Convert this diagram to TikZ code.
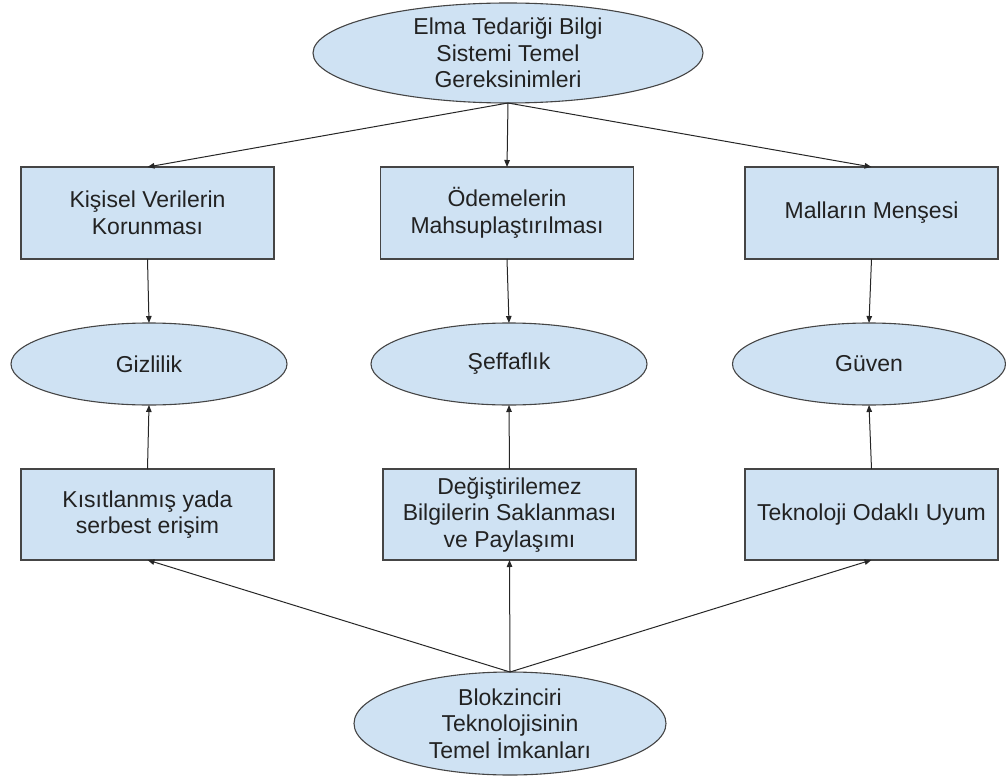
\documentclass[tikz,border=0pt]{standalone}
\usepackage{fontspec}
\setmainfont{Liberation Sans}
\usetikzlibrary{shapes.geometric,arrows.meta}

\definecolor{cellfill}{HTML}{CFE2F3}
\definecolor{cellline}{HTML}{454545}
\definecolor{inkcol}{HTML}{222222}

\tikzset{
  txt/.style={font=\fontsize{23}{26.5}\selectfont, text=inkcol, align=center},
  stepbox/.style={txt, rectangle, draw=cellline, fill=cellfill, line width=1.1pt,
    minimum width=253pt, minimum height=92pt, inner sep=0pt, outer sep=0pt},
  oval/.style={ellipse, draw=cellline, fill=cellfill, line width=1.1pt,
    inner sep=0pt, outer sep=0pt},
  ovaltext/.style={label={[txt]center:#1}},
  link/.style={draw=black!85, line width=1pt, -{Triangle[length=7pt,width=5.5pt]}}
}

\begin{document}
\begin{tikzpicture}[x=1pt,y=-1pt]
\useasboundingbox (0,0) rectangle (1006,778);

% top requirement
\node[oval, minimum width=390pt, minimum height=100pt,
  ovaltext={Elma Tedariği Bilgi\\Sistemi Temel\\Gereksinimleri}] (req) at (508,53) {};

% requirement boxes
\node[stepbox] (priv) at (147.5,213) {Kişisel Verilerin\\Korunması};
\node[stepbox] (pay)  at (507,213) {Ödemelerin\\Mahsuplaştırılması};
\node[stepbox] (orig) at (871.5,213) {Malların Menşesi};

% properties
\node[oval, minimum width=276pt, minimum height=82pt, ovaltext={Gizlilik}] (giz) at (149,364) {};
\node[oval, minimum width=276pt, minimum height=82pt, ovaltext={Şeffaflık}] (sef) at (509,364) {};
\node[oval, minimum width=273pt, minimum height=82pt, ovaltext={Güven}] (guv) at (869,364) {};

% capability boxes
\node[stepbox, minimum height=91pt] (acc)  at (147.5,514.5) {Kısıtlanmış yada\\serbest erişim};
\node[stepbox, minimum height=91pt] (imm)  at (509.5,514.5) {Değiştirilemez\\Bilgilerin Saklanması\\ve Paylaşımı};
\node[stepbox, minimum height=91pt] (tech) at (871.5,514.5) {Teknoloji Odaklı Uyum};

% blockchain base
\node[oval, minimum width=312pt, minimum height=103pt,
  ovaltext={Blokzinciri\\Teknolojisinin\\Temel İmkanları}] (blk) at (510,723.5) {};

% connectors
\draw[link] (req.south) -- (priv.north);
\draw[link] (req.south) -- (pay.north);
\draw[link] (req.south) -- (orig.north);

\draw[link] (priv.south) -- (giz.north);
\draw[link] (pay.south)  -- (sef.north);
\draw[link] (orig.south) -- (guv.north);

\draw[link] (acc.north)  -- (giz.south);
\draw[link] (imm.north)  -- (sef.south);
\draw[link] (tech.north) -- (guv.south);

\draw[link] (blk.north) -- (acc.south);
\draw[link] (blk.north) -- (imm.south);
\draw[link] (blk.north) -- (tech.south);
\end{tikzpicture}
\end{document}
